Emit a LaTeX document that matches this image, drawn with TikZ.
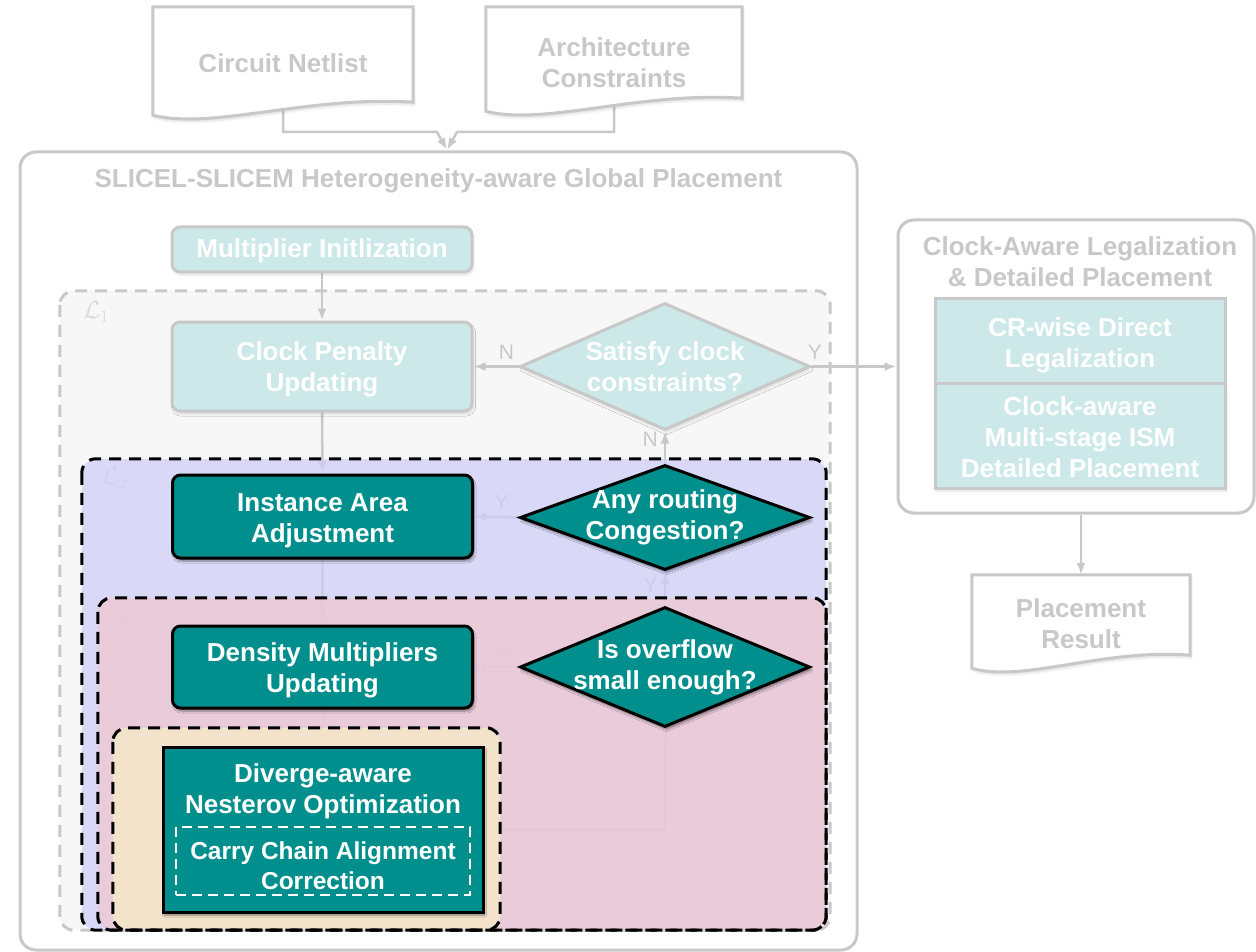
\documentclass[tikz,border=0pt]{standalone}
\usepackage{fontspec}
\setmainfont{Liberation Sans}
\usetikzlibrary{shapes.geometric,calc,arrows.meta,shadows.blur}

\definecolor{tealD}{RGB}{0,143,140}
\definecolor{tealL}{RGB}{204,232,232}
\definecolor{lineG}{RGB}{200,200,200}
\definecolor{loopA}{RGB}{247,247,247}
\definecolor{loopB}{RGB}{208,206,248}
\definecolor{loopC}{RGB}{241,199,209}
\definecolor{loopD}{RGB}{248,236,198}
\definecolor{markA}{RGB}{216,216,216}

\pgfdeclarelayer{back}
\pgfdeclarelayer{wire}
\pgfdeclarelayer{veil}
\pgfsetlayers{back,wire,veil,main}

\tikzset{
  big/.style={font=\fontsize{26}{31}\selectfont\bfseries},
  softshadow/.style={blur shadow={shadow xshift=1.5pt,shadow yshift=-3pt,shadow blur steps=6,shadow opacity=#1}},
  softshadow/.default=35,
  darkbox/.style={rectangle, rounded corners=8pt, draw=black, line width=3pt, fill=tealD,
    minimum width=300pt, inner sep=0pt, softshadow=45},
  lightbox/.style={rectangle, rounded corners=8pt, draw=lineG, line width=3pt, fill=tealL,
    minimum width=300pt, inner sep=0pt, softshadow=12},
  cellbox/.style={rectangle, draw=lineG, line width=3pt, fill=tealL,
    minimum width=290pt, inner sep=0pt},
  decision/.style={diamond, line width=3pt, minimum width=290pt, inner sep=0pt},
  qtext/.style={big, text=white, align=center, inner sep=0pt},
  greytext/.style={big, text=lineG, align=center, inner sep=0pt},
  docbox/.style={rectangle, inner sep=0pt},
  docline/.style={draw=lineG, line width=3pt, fill=white, softshadow=12},
  wire/.style={draw=lineG, line width=2.5pt, -{Latex[length=12pt,width=9pt]}},
  lab/.style={font=\fontsize{21}{21}\selectfont, text=lineG, inner sep=2pt},
  loopfill/.style={rectangle, rounded corners=14pt, inner sep=0pt},
  loopedge/.style={line width=3pt, dash pattern=on 12pt off 8pt, rounded corners=14pt},
  loopmark/.style={font=\fontsize{26}{26}\selectfont, inner sep=0pt},
}

% wavy-bottomed document outline around a named node
\newcommand\docoutline[1]{%
  \draw[docline] (#1.north west) -- (#1.north east) -- (#1.south east)
    .. controls ($(#1.south east)!0.4!(#1.south west)+(0,-7)$)
           and ($(#1.south west)!0.23!(#1.south east)+(0,28)$)
    .. ($(#1.south west)+(0,13)$) -- cycle;}

\begin{document}
\begin{tikzpicture}[x=1pt,y=-1pt]
\useasboundingbox (0,0) rectangle (1256,952);

% ---------- inputs ----------
\node[docbox, minimum width=260pt, minimum height=95pt] (cn) at (283,54.5) {};
\node[docbox, minimum width=256pt, minimum height=91pt] (ac) at (614,52.5) {};
\docoutline{cn}
\docoutline{ac}
\node[greytext] (cnt) at (283,63) {Circuit Netlist};
\node[greytext] (act) at (614,63) {Architecture\\Constraints};

% ---------- global placement frame ----------
\node[draw=lineG, line width=3pt, rounded corners=16pt, minimum width=837pt,
      minimum height=798pt, inner sep=0pt] (gp) at (438.5,551) {};
\node[greytext] (gpt) at (438.5,181) {SLICEL-SLICEM Heterogeneity-aware Global Placement};

\node[lightbox, minimum height=45pt] (mi) at (322,249.5) {};
\node[qtext] (mit) at ([yshift=-1.5pt]mi.center) {Multiplier Initlization};
\node[lightbox, minimum height=89pt] (cp) at (322,366.5) {};
\node[qtext] (cpt) at ([yshift=-3pt]cp.center) {Clock Penalty\\Updating};
\node[darkbox, minimum height=83pt] (ia) at (322.5,516.5) {};
\node[qtext] (iat) at ([yshift=-4pt]ia.center) {Instance Area\\Adjustment};
\node[darkbox, minimum height=82pt] (dm) at (322.5,667) {};
\node[qtext] (dmt) at ([yshift=-3.5pt]dm.center) {Density Multipliers\\Updating};
\node[darkbox, sharp corners, minimum width=320pt, minimum height=165pt] (dv) at (323,829.5) {};
\node[qtext] (dvt) at (323,791) {Diverge-aware\\Nesterov Optimization};
\node[draw=white, line width=2.5pt, dash pattern=on 10pt off 6pt, minimum width=294pt,
      minimum height=68pt, inner sep=0pt] (cc) at (323,861) {};
\node[qtext, font=\fontsize{24.5}{30}\selectfont\bfseries] (cct) at ([yshift=-5pt]cc.center)
      {Carry Chain Alignment\\Correction};

\node[decision, draw=lineG, fill=tealL, minimum height=127pt, softshadow=10] (sc) at (665,366.5) {};
\node[qtext] (sct) at (sc) {Satisfy clock\\constraints?};
\node[decision, draw=black, fill=tealD, minimum height=105pt, softshadow=45] (rc) at (665,517.5) {};
\node[qtext] (rct) at (rc) {Any routing\\Congestion?};
\node[decision, draw=black, fill=tealD, minimum height=120pt, softshadow=45] (of) at (665,667) {};
\node[qtext] (oft) at (of) {Is overflow\\small enough?};

% ---------- legalization and detailed placement ----------
\node[draw=lineG, line width=3pt, rounded corners=16pt, minimum width=356pt,
      minimum height=293pt, inner sep=0pt] (rp) at (1076,366.5) {};
\node[greytext] (rpt) at (1080,262) {Clock-Aware Legalization\\\& Detailed Placement};
\node[cellbox, minimum height=85pt] (crw) at (1080,340.5) {};
\node[qtext] (crwt) at ([yshift=-4.5pt]crw.center) {CR-wise Direct\\Legalization};
\node[cellbox, minimum height=105pt, softshadow=12] (cam) at (1080,435.5) {};
\node[qtext] (camt) at ([yshift=-2pt]cam.center) {Clock-aware\\Multi-stage ISM\\Detailed Placement};

\node[docbox, minimum width=218pt, minimum height=80pt] (pr) at (1081,615) {};
\docoutline{pr}
\node[greytext] (prt) at (1081,624) {Placement\\Result};

% ---------- loop regions ----------
\begin{pgfonlayer}{back}
  \node[loopfill, fill=loopA, minimum width=770pt, minimum height=639pt] (L1) at (445,610.5) {};
  \draw[loopedge, draw=lineG] (L1.north west) rectangle (L1.south east);
\end{pgfonlayer}

\begin{pgfonlayer}{veil}
  \node[loopfill, fill=loopB, fill opacity=0.75, minimum width=744pt, minimum height=471pt] (L2) at (454,694.5) {};
  \node[loopfill, fill=loopC, fill opacity=0.75, minimum width=728pt, minimum height=332pt] (L3) at (462,764) {};
  \node[loopfill, fill=loopD, fill opacity=0.75, minimum width=387pt, minimum height=202pt] (L4) at (306.5,829) {};
  \foreach \r in {L2,L3,L4}
    \draw[loopedge, draw=black] (\r.north west) rectangle (\r.south east);
\end{pgfonlayer}

% ---------- connectors ----------
\begin{pgfonlayer}{wire}
  \node[loopmark, text=markA] (m1) at (96,312) {$\mathcal{L}_1$};
  \node[loopmark, text=markA] (m2) at (114,478) {$\mathcal{L}_2$};
  \node[loopmark, text=markA] (m3) at (130,619) {$\mathcal{L}_3$};

  \coordinate (mg) at (447,150);
  \draw[wire] ([yshift=-4pt]cn.south) |- ($(mg)+(-10,-18)$) -- (mg);
  \draw[wire] ([yshift=-4pt]ac.south) |- ($(mg)+(10,-18)$) -- (mg);

  \draw[wire] (mi.south) -- (cp.north);
  \draw[wire] (cp.south) -- (ia.north);
  \draw[wire] (ia.south) -- (dm.north);
  \draw[wire] (dm.south) -- (dv.north);
  \draw[wire] (dv.east) -| (of.south);

  \draw[wire] (sc.west) -- node[lab, above=4pt, pos=0.27] (y1) {N} (cp.east);
  \draw[wire] (sc.east) -- node[lab, above=4pt, pos=0.04] (y2) {Y} (rp.west);
  \draw[wire] (rc.north) -- node[lab, left=4pt, pos=0.77] (y3) {N} (sc.south);
  \draw[wire] (rc.west) -- node[lab, above=4pt, pos=0.38] (y4) {Y} (ia.east);
  \draw[wire] (of.north) -- node[lab, left=4pt, pos=0.6] (y5) {Y} (rc.south);
  \draw[wire] (of.west) -- node[lab, above=4pt, pos=0.32] (y6) {N} (dm.east);

  \draw[wire] (pr.north |- rp.south) -- (pr.north);
\end{pgfonlayer}
\end{tikzpicture}
\end{document}
